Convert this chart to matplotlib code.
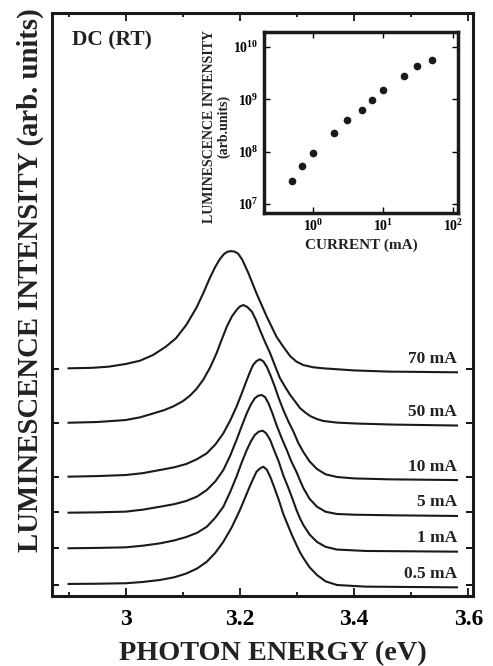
import numpy as np
import matplotlib.pyplot as plt
from matplotlib.ticker import MultipleLocator, FuncFormatter, FixedLocator, NullLocator, NullFormatter

plt.rcParams['font.family'] = 'Liberation Serif'
plt.rcParams['font.weight'] = 'bold'
plt.rcParams['axes.labelweight'] = 'bold'
plt.rcParams['mathtext.fontset'] = 'custom'
plt.rcParams['mathtext.rm'] = 'Liberation Serif:bold'
plt.rcParams['mathtext.bf'] = 'Liberation Serif:bold'

# spectra, photon energy (eV) vs stacked intensity (arb. units)
e_70 = [2.90, 2.94, 2.97, 3.00, 3.025, 3.048, 3.07, 3.088, 3.106, 3.124, 3.136, 3.147, 3.157,
        3.165, 3.172, 3.178, 3.184, 3.191, 3.197, 3.204, 3.215, 3.229, 3.247, 3.264, 3.276,
        3.288, 3.299, 3.311, 3.328, 3.346, 3.40, 3.46, 3.58]
i_70 = [1.946, 1.950, 1.960, 1.983, 2.011, 2.06, 2.13, 2.203, 2.316, 2.465, 2.59, 2.715, 2.815,
        2.880, 2.922, 2.942, 2.948, 2.943, 2.925, 2.875, 2.758, 2.587, 2.387, 2.216, 2.13,
        2.05, 2.003, 1.974, 1.955, 1.946, 1.928, 1.918, 1.912]

e_50 = [2.90, 2.95, 3.00, 3.025, 3.048, 3.068, 3.083, 3.10, 3.112, 3.124, 3.136, 3.148, 3.159,
        3.168, 3.177, 3.186, 3.194, 3.200, 3.206, 3.213, 3.221, 3.228, 3.235, 3.244, 3.253,
        3.262, 3.270, 3.280, 3.288, 3.297, 3.305, 3.314, 3.323, 3.335, 3.346, 3.37, 3.405,
        3.47, 3.58]
i_50 = [1.481, 1.487, 1.504, 1.527, 1.56, 1.59, 1.62, 1.665, 1.71, 1.77, 1.85, 1.955, 2.074,
        2.19, 2.302, 2.39, 2.444, 2.475, 2.487, 2.47, 2.430, 2.36, 2.274, 2.17, 2.074,
        1.96, 1.863, 1.78, 1.718, 1.66, 1.607, 1.57, 1.538, 1.512, 1.496, 1.482, 1.474,
        1.465, 1.457]

e_10 = [2.90, 2.95, 3.00, 3.03, 3.06, 3.085, 3.106, 3.125, 3.142, 3.157, 3.171, 3.183, 3.194,
        3.203, 3.212, 3.218, 3.223, 3.229, 3.235, 3.241, 3.247, 3.254, 3.261, 3.268, 3.276,
        3.285, 3.294, 3.302, 3.311, 3.322, 3.335, 3.35, 3.37, 3.40, 3.463, 3.58]
i_10 = [1.020, 1.025, 1.034, 1.05, 1.077, 1.10, 1.128, 1.17, 1.220, 1.295, 1.391, 1.50, 1.618,
        1.73, 1.846, 1.92, 1.974, 2.008, 2.023, 2.005, 1.960, 1.88, 1.789, 1.69, 1.590,
        1.49, 1.402, 1.31, 1.231, 1.15, 1.085, 1.04, 1.017, 1.005, 0.997, 0.991]

e_5 = [2.90, 2.95, 3.00, 3.03, 3.06, 3.085, 3.106, 3.125, 3.142, 3.157, 3.171, 3.183, 3.194,
       3.203, 3.212, 3.219, 3.226, 3.232, 3.238, 3.244, 3.250, 3.257, 3.264, 3.273, 3.282,
       3.290, 3.299, 3.305, 3.311, 3.322, 3.335, 3.35, 3.37, 3.40, 3.463, 3.58]
i_5 = [0.712, 0.715, 0.721, 0.738, 0.763, 0.785, 0.812, 0.85, 0.906, 0.98, 1.077, 1.20, 1.333,
       1.45, 1.562, 1.635, 1.690, 1.712, 1.718, 1.70, 1.647, 1.56, 1.462, 1.35, 1.248,
       1.15, 1.060, 0.99, 0.923, 0.83, 0.763, 0.72, 0.701, 0.695, 0.690, 0.684]

e_1 = [2.90, 2.95, 3.00, 3.03, 3.06, 3.085, 3.106, 3.125, 3.142, 3.157, 3.171, 3.183, 3.194,
       3.203, 3.212, 3.219, 3.226, 3.233, 3.240, 3.246, 3.253, 3.260, 3.268, 3.276, 3.285,
       3.292, 3.299, 3.305, 3.311, 3.322, 3.335, 3.35, 3.37, 3.42, 3.58]
i_1 = [0.408, 0.411, 0.416, 0.43, 0.450, 0.475, 0.504, 0.54, 0.592, 0.67, 0.763, 0.89, 1.020,
       1.14, 1.248, 1.32, 1.376, 1.405, 1.413, 1.39, 1.333, 1.245, 1.148, 1.03, 0.921,
       0.83, 0.735, 0.665, 0.607, 0.525, 0.462, 0.42, 0.397, 0.385, 0.379]

e_05 = [2.90, 2.95, 3.00, 3.03, 3.06, 3.085, 3.106, 3.125, 3.142, 3.157, 3.171, 3.186, 3.200,
        3.209, 3.217, 3.223, 3.229, 3.235, 3.241, 3.247, 3.253, 3.260, 3.268, 3.276, 3.285,
        3.292, 3.299, 3.305, 3.311, 3.322, 3.335, 3.35, 3.37, 3.42, 3.58]
i_05 = [0.103, 0.105, 0.109, 0.12, 0.137, 0.16, 0.192, 0.235, 0.293, 0.37, 0.464, 0.59, 0.735,
        0.84, 0.934, 1.00, 1.062, 1.09, 1.105, 1.08, 1.020, 0.93, 0.821, 0.70, 0.592,
        0.51, 0.436, 0.375, 0.325, 0.245, 0.179, 0.125, 0.094, 0.08, 0.074]

labels = ['70 mA', '50 mA', '10 mA', '5 mA', '1 mA', '0.5 mA']
baselines = [1.94, 1.48, 1.02, 0.72, 0.41, 0.09]

# inset: integrated intensity vs current
current = [0.5, 0.7, 1, 2, 3, 5, 7, 10, 20, 30, 50]
lum = [2.8e7, 5.3e7, 9.6e7, 2.3e8, 4.0e8, 6.3e8, 9.8e8, 1.5e9, 2.8e9, 4.2e9, 5.5e9]

fig = plt.figure(figsize=(4.93, 6.66), dpi=100)
ax = fig.add_axes([0.1049, 0.1051, 0.8545, 0.8761])

spectra = [(e_70, i_70), (e_50, i_50), (e_10, i_10), (e_5, i_5), (e_1, i_1), (e_05, i_05)]
for (e, i), lab in zip(spectra, labels):
    ax.plot(e, i, color='#1a1a1a', lw=1.5)
    ax.annotate(lab, xy=(3.58, i[-1]), xytext=(0, 4), textcoords='offset points',
                ha='right', va='bottom', fontsize=12.5, color='#222222')

ax.set_xlim(2.8705, 3.608)
ax.set_ylim(0, 4.987)
ax.xaxis.set_major_locator(MultipleLocator(0.2))
ax.xaxis.set_minor_locator(MultipleLocator(0.1))
ax.xaxis.set_major_formatter(FuncFormatter(lambda v, p: '%g' % round(v, 2)))
ax.yaxis.set_major_locator(FixedLocator(baselines))
ax.yaxis.set_major_formatter(NullFormatter())
ax.tick_params(axis='x', which='major', direction='in', length=6, width=1.2, top=True,
               labelsize=17, pad=9)
ax.tick_params(axis='x', which='minor', direction='in', length=3, width=1.2, top=True)
ax.tick_params(axis='y', direction='in', length=5, width=1.3, right=True)
for s in ax.spines.values():
    s.set_linewidth(2.2)
    s.set_color('#1a1a1a')
ax.set_xlabel('PHOTON ENERGY (eV)', fontsize=20.3, labelpad=8, color='#222222')
ax.xaxis.label.set_x(0.525)
fig.text(30 / 493, 1 - 280 / 666, 'LUMINESCENCE INTENSITY (arb. units)', rotation=90,
         ha='center', va='center', fontsize=20.7, color='#222222')
fig.text(72 / 493, 1 - 40 / 666, 'DC (RT)', ha='left', va='center', fontsize=15.5, color='#222222')

# inset
axi = fig.add_axes([0.5355, 0.6806, 0.3929, 0.2709])
axi.set_xscale('log')
axi.set_yscale('log')
axi.plot(current, lum, 'o', color='#1a1a1a', ms=4.5)
axi.set_xlim(0.198, 115.6)
axi.set_ylim(10 ** 6.834, 10 ** 10.275)
axi.xaxis.set_major_locator(FixedLocator([1, 10, 100]))
axi.yaxis.set_major_locator(FixedLocator([1e7, 1e8, 1e9, 1e10]))
axi.xaxis.set_minor_locator(NullLocator())
axi.yaxis.set_minor_locator(NullLocator())
fmt = FuncFormatter(lambda v, p: r'$\mathbf{10^{%d}}$' % int(round(np.log10(v))))
axi.xaxis.set_major_formatter(fmt)
axi.yaxis.set_major_formatter(fmt)
axi.tick_params(direction='in', length=4, width=1.0, top=True, right=True, labelsize=10, pad=4)
for s in axi.spines.values():
    s.set_linewidth(2.5)
    s.set_color('#1a1a1a')
axi.set_xlabel('CURRENT (mA)', fontsize=11, labelpad=3, color='#222222')
axi.set_ylabel('LUMINESCENCE INTENSITY\n(arb.units)', fontsize=10, linespacing=1.1, color='#222222')
axi.yaxis.set_label_coords(-0.175, 0.48)

fig.savefig('out.png', dpi=100)
